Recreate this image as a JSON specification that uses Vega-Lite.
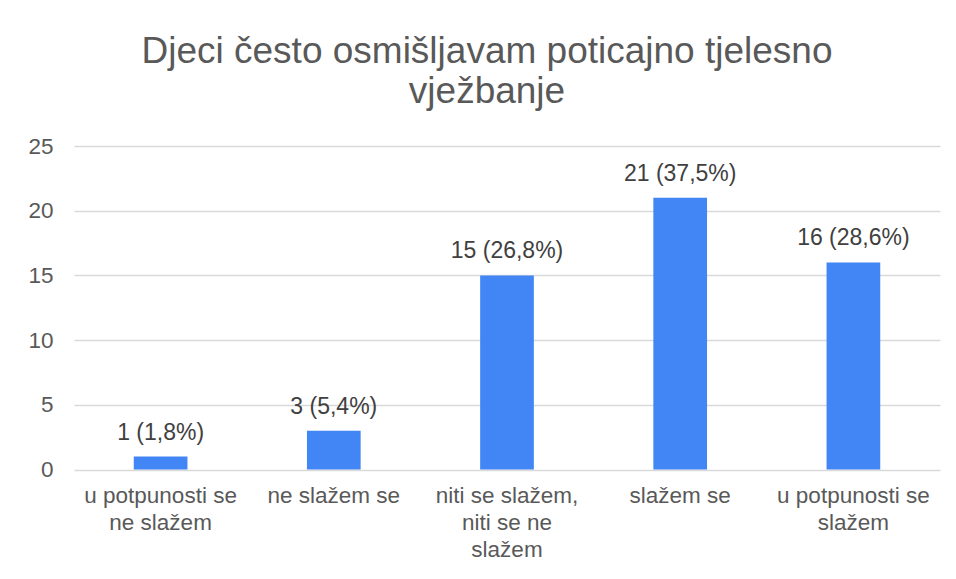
{
  "$schema": "https://vega.github.io/schema/vega-lite/v6.json",
  "autosize": {"type": "none"},
  "width": 866,
  "height": 323.5,
  "padding": {"left": 74, "top": 146, "right": 16, "bottom": 109.5},
  "background": "white",
  "title": {
    "text": ["Djeci često osmišljavam poticajno tjelesno", "vježbanje"],
    "font": "Liberation Sans",
    "fontSize": 37,
    "fontWeight": "normal",
    "color": "#595959",
    "lineHeight": 40,
    "anchor": "middle",
    "frame": "group",
    "dx": -20,
    "offset": 24
  },
  "data": {
    "values": [
      {"odgovor": "u potpunosti se ne slažem", "broj": 1, "oznaka": "1 (1,8%)"},
      {"odgovor": "ne slažem se", "broj": 3, "oznaka": "3 (5,4%)"},
      {"odgovor": "niti se slažem, niti se ne slažem", "broj": 15, "oznaka": "15 (26,8%)"},
      {"odgovor": "slažem se", "broj": 21, "oznaka": "21 (37,5%)"},
      {"odgovor": "u potpunosti se slažem", "broj": 16, "oznaka": "16 (28,6%)"}
    ]
  },
  "encoding": {
    "x": {
      "field": "odgovor",
      "type": "nominal",
      "sort": null,
      "scale": {"paddingInner": 0, "paddingOuter": 0},
      "axis": {
        "title": null,
        "labelAngle": 0,
        "labelFont": "Liberation Sans",
        "labelFontSize": 22.5,
        "labelColor": "#595959",
        "labelLineHeight": 27,
        "labelPadding": 15,
        "labelBaseline": "top",
        "ticks": false,
        "domain": false,
        "labelExpr": "datum.value == 'u potpunosti se ne slažem' ? ['u potpunosti se', 'ne slažem'] : datum.value == 'niti se slažem, niti se ne slažem' ? ['niti se slažem,', 'niti se ne', 'slažem'] : datum.value == 'u potpunosti se slažem' ? ['u potpunosti se', 'slažem'] : datum.value"
      }
    },
    "y": {
      "field": "broj",
      "type": "quantitative",
      "scale": {"domain": [0, 25]},
      "axis": {
        "title": null,
        "values": [0, 5, 10, 15, 20, 25],
        "labelFont": "Liberation Sans",
        "labelFontSize": 22.5,
        "labelColor": "#595959",
        "labelPadding": 21,
        "ticks": false,
        "domain": false,
        "gridColor": "#d9d9d9",
        "gridWidth": 1.5
      }
    }
  },
  "layer": [
    {
      "mark": {"type": "bar", "color": "#4285F4", "width": {"band": 0.31}}
    },
    {
      "mark": {
        "type": "text",
        "font": "Liberation Sans",
        "fontSize": 23,
        "color": "#404040",
        "baseline": "alphabetic",
        "dy": -17
      },
      "encoding": {"text": {"field": "oznaka"}}
    }
  ],
  "config": {"view": {"stroke": null}}
}
